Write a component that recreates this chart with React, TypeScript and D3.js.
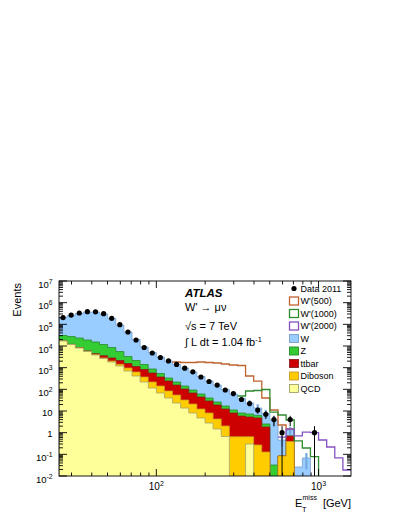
import React, { useRef, useEffect } from 'react'
import * as d3 from 'd3'

const WIDTH = 399
const HEIGHT = 516

// E_T^miss bins: log spaced, 20 per decade starting at ~25 GeV
const binEdges = d3.range(37).map(i => Math.pow(10, 1.4 + 0.05 * i))

const data2011 = [206000, 268900, 332700, 381900, 379000, 308800, 189400, 95940, 44180, 18880, 8510, 4746, 2941, 2050, 1410, 950, 640, 370, 230, 158, 93, 64, 34, 22, 11, 7, 4, 1, 4, 0, 0, 1, 0, 0, 0, 0]

const qcd = [17000, 11700, 8070, 5560, 3840, 2650, 1820, 1190, 700, 412, 218, 115, 67.7, 39.8, 23.4, 13.7, 8.08, 4.75, 2.79, 1.48, 0.665, 0, 0, 0.3, 0, 0, 0, 0, 0, 0, 0, 0, 0, 0, 0, 0]
const diboson = [100, 110, 120, 135, 150, 175, 205, 240, 263, 218, 152, 103, 75, 44, 31, 18.5, 12.9, 7.6, 5.3, 2.8, 1.37, 0.65, 0.65, 0.35, 0.27, 0.128, 0, 0.084, 0.39, 0, 0, 0, 0, 0, 0, 0]
const ttbar = [40, 80, 150, 250, 400, 700, 760, 706, 591, 500, 451, 348, 228, 158, 103, 71, 46.7, 31.8, 20.8, 14.6, 10.3, 7.4, 5.2, 4.6, 4.5, 1.7, 0, 0, 0.31, 0, 0, 0, 0, 0, 0, 0]
const zjets = [13320, 15490, 15010, 12930, 10885, 8185, 5722, 3426, 1716, 1008, 577, 300, 167, 91, 60, 38.7, 25.3, 16.6, 10.9, 7.1, 4.6, 3.0, 2.2, 2.0, 1.44, 0.69, 0.032, 0, 0, 0, 0, 0, 0, 0, 0, 0]
const wjets = [175740, 227640, 292070, 351080, 354690, 287375, 176960, 87386, 40910, 17777, 7576, 4136, 2564, 1694, 1180, 821, 537, 330, 202, 132, 81, 49.7, 29.6, 16.1, 7.5, 5.15, 3.8, 0.37, 0.63, 0.026, 0.068, 0, 0, 0, 0, 0]
// relative MC stat. uncertainty drawn as light blue bars
const mcErr = [0, 0, 0, 0, 0, 0, 0, 0, 0, 0, 0, 0, 0, 0, 0, 0, 0.05, 0.08, 0.1, 0.12, 0.15, 0.25, 0.2, 0.35, 0.5, 0.45, 0.5, 0.5, 0.4, 0, 0.7, 0, 0, 0, 0, 0]

const wprime500 = [0, 0, 0, 0, 0, 0, 0, 0, 0, 0, 0, 0, 0, 0, 425, 765, 1098, 1432, 1486, 1481, 1376, 1265, 1219, 389, 228, 32.1, 7.3, 1.8, 0.15, 0, 0, 0, 0, 0, 0, 0]
const wprime1000 = [0, 0, 0, 0, 0, 0, 0, 0, 0, 0, 0, 0, 0, 0, 0, 0, 0, 0, 0, 0, 0, 0, 11.5, 60.2, 74.5, 90.4, 5.1, 6.07, 2.51, 0.39, 0.128, 0.079, 0, 0, 0, 0]
const wprime2000 = [0, 0, 0, 0, 0, 0, 0, 0, 0, 0, 0, 0, 0, 0, 0, 0, 0, 0, 0, 0, 0, 0, 0, 0, 0, 0, 0, 0.17, 0.15, 0.68, 1.0, 1.0, 0.458, 0.218, 0.068, 0.0189]

const yDecades = [-2, -1, 0, 1, 2, 3, 4, 5, 6, 7]
const xMajor = [100, 1000]
const legendLabels = ['Data 2011', "W'(500)", "W'(1000)", "W'(2000)", 'W', 'Z', 'ttbar', 'Diboson', 'QCD']

const FONT = "'Liberation Sans', Arial, Helvetica, sans-serif"

const App = () => {
  const visEl = useRef<SVGSVGElement>(null)

  useEffect(() => {
    const svg = d3.select(visEl.current)
    svg.selectAll('*').remove()

    const left = 59, right = 351, top = 281, bottom = 476
    const nBins = binEdges.length - 1

    const x = d3.scaleLog().domain([binEdges[0], binEdges[nBins]]).range([left, right])
    const y = d3.scaleLog().domain([1e-2, 1e7]).range([bottom, top])
    const yv = (v: number) => (v > 0 ? y(v) : bottom + 5)

    svg.append('rect').attr('width', WIDTH).attr('height', HEIGHT).attr('fill', '#fff')

    svg.append('clipPath').attr('id', 'plotClip')
      .append('rect').attr('x', left).attr('y', top).attr('width', right - left).attr('height', bottom - top)

    const g = svg.append('g').attr('clip-path', 'url(#plotClip)')

    // stacked backgrounds, bottom to top
    const layers = [
      { vals: qcd, fill: '#ffff99', stroke: '#a3a36e' },
      { vals: diboson, fill: '#ffcc00', stroke: '#c89a2a' },
      { vals: ttbar, fill: '#cc0000', stroke: '#8a2020' },
      { vals: zjets, fill: '#33cc33', stroke: '#2a8a2a' },
      { vals: wjets, fill: '#99ccff', stroke: '#7a9fc8' },
    ]
    const cum: number[][] = []
    layers.forEach((l, k) => {
      cum.push(l.vals.map((v, i) => v + (k > 0 ? cum[k - 1][i] : 0)))
    })
    const total = cum[cum.length - 1]

    const stepArea = (vals: number[]) => {
      let p = `M${x(binEdges[0])},${bottom + 5}`
      vals.forEach((v, i) => {
        p += `L${x(binEdges[i])},${yv(v)}L${x(binEdges[i + 1])},${yv(v)}`
      })
      return p + `L${x(binEdges[nBins])},${bottom + 5}Z`
    }

    for (let k = layers.length - 1; k >= 0; k--) {
      g.append('path')
        .attr('d', stepArea(cum[k]))
        .attr('fill', layers[k].fill)
        .attr('stroke', layers[k].stroke)
        .attr('stroke-width', 0.8)
    }

    // MC uncertainty bars
    const centre = (i: number) => x(Math.sqrt(binEdges[i] * binEdges[i + 1]))
    mcErr.forEach((e, i) => {
      if (e <= 0 || total[i] <= 0) return
      g.append('line')
        .attr('x1', centre(i)).attr('x2', centre(i))
        .attr('y1', yv(total[i] * (1 - e))).attr('y2', yv(total[i] * (1 + e)))
        .attr('stroke', '#74aadf').attr('stroke-width', 2.2)
    })

    // signal lines on top of the SM stack
    const signals = [
      { vals: wprime500, color: '#c0632f', from: 14, to: 28 },
      { vals: wprime1000, color: '#2e8b2e', from: 22, to: 32 },
      { vals: wprime2000, color: '#8552c2', from: 27, to: 35 },
    ]
    signals.forEach(s => {
      let p = ''
      for (let i = s.from; i <= s.to; i++) {
        const v = yv(total[i] + s.vals[i])
        p += i === s.from ? `M${x(binEdges[i])},${v}` : `V${v}`
        p += `H${x(binEdges[i + 1])}`
      }
      g.append('path').attr('d', p).attr('fill', 'none')
        .attr('stroke', s.color).attr('stroke-width', 1.3)
    })

    // data points with poisson errors
    data2011.forEach((n, i) => {
      if (n <= 0) return
      const cx = centre(i)
      const err = Math.sqrt(n)
      g.append('line')
        .attr('x1', cx).attr('x2', cx)
        .attr('y1', yv(n - err)).attr('y2', yv(n + err))
        .attr('stroke', '#000').attr('stroke-width', 1)
      g.append('circle').attr('cx', cx).attr('cy', y(n)).attr('r', 2.6).attr('fill', '#000')
    })

    // frame and ticks
    const axes = svg.append('g').attr('stroke', '#000').attr('stroke-width', 0.9)
    axes.append('rect').attr('x', left).attr('y', top).attr('width', right - left).attr('height', bottom - top)
      .attr('fill', 'none')

    yDecades.forEach(n => {
      const yy = y(Math.pow(10, n))
      axes.append('line').attr('x1', left).attr('x2', left + 8).attr('y1', yy).attr('y2', yy)
      axes.append('line').attr('x1', right).attr('x2', right - 8).attr('y1', yy).attr('y2', yy)
      if (n < 7) {
        for (let k = 2; k <= 9; k++) {
          const ym = y(k * Math.pow(10, n))
          axes.append('line').attr('x1', left).attr('x2', left + 4).attr('y1', ym).attr('y2', ym)
          axes.append('line').attr('x1', right).attr('x2', right - 4).attr('y1', ym).attr('y2', ym)
        }
      }
    })

    const xMinor: number[] = []
    ;[10, 100, 1000].forEach(d => {
      for (let k = 2; k <= 9; k++) {
        const v = k * d
        if (v > binEdges[0] && v < binEdges[nBins]) xMinor.push(v)
      }
    })
    xMajor.forEach(v => {
      axes.append('line').attr('x1', x(v)).attr('x2', x(v)).attr('y1', bottom).attr('y2', bottom - 7)
      axes.append('line').attr('x1', x(v)).attr('x2', x(v)).attr('y1', top).attr('y2', top + 7)
    })
    xMinor.forEach(v => {
      axes.append('line').attr('x1', x(v)).attr('x2', x(v)).attr('y1', bottom).attr('y2', bottom - 3.5)
      axes.append('line').attr('x1', x(v)).attr('x2', x(v)).attr('y1', top).attr('y2', top + 3.5)
    })

    // y tick labels
    const txt = svg.append('g').attr('font-family', FONT).attr('fill', '#000')
    yDecades.forEach(n => {
      const yy = y(Math.pow(10, n))
      const t = txt.append('text').attr('x', 52.5).attr('text-anchor', 'end').attr('font-size', 9.5)
      if (n === 0 || n === 1) {
        t.attr('y', yy + 4.5).text(n === 0 ? '1' : '10')
      } else {
        t.attr('y', yy + 6.5)
        t.append('tspan').text('10')
        t.append('tspan').attr('dy', -4).attr('font-size', 6.8).text(String(n))
      }
    })

    // x tick labels
    xMajor.forEach(v => {
      const t = txt.append('text').attr('x', x(v)).attr('y', 490).attr('text-anchor', 'middle').attr('font-size', 10)
      t.append('tspan').text('10')
      t.append('tspan').attr('dy', -4.5).attr('font-size', 7).text(String(Math.round(Math.log10(v))))
    })

    // axis titles
    txt.append('text')
      .attr('transform', `translate(20.5,${top + 2}) rotate(-90)`)
      .attr('text-anchor', 'end').attr('font-size', 11).text('Events')

    txt.append('text').attr('x', 295).attr('y', 506.5).attr('font-size', 11).text('E')
    txt.append('text').attr('x', 302).attr('y', 511.5).attr('font-size', 7.5).text('T')
    txt.append('text').attr('x', 302.5).attr('y', 500).attr('font-size', 7).text('miss')
    txt.append('text').attr('x', 351).attr('y', 506.5).attr('text-anchor', 'end').attr('font-size', 11).text('[GeV]')

    // ATLAS label block
    txt.append('text').attr('x', 185).attr('y', 297).attr('font-size', 11.5)
      .attr('font-weight', 'bold').attr('font-style', 'italic').text('ATLAS')
    txt.append('text').attr('x', 185).attr('y', 311).attr('font-size', 11).text("W' \u2192 \u03bc\u03bd")
    txt.append('text').attr('x', 185).attr('y', 330).attr('font-size', 11).text('\u221as = 7 TeV')
    const lumi = txt.append('text').attr('x', 185).attr('y', 346).attr('font-size', 11)
    lumi.append('tspan').text('\u222b L dt = 1.04 fb')
    lumi.append('tspan').attr('dy', -4.5).attr('font-size', 7.5).text('-1')

    // legend
    const rowY = (k: number) => 288.5 + k * 12.5
    const legendStyles = [
      null,
      { fill: '#fff', stroke: '#c0632f' },
      { fill: '#fff', stroke: '#2e8b2e' },
      { fill: '#fff', stroke: '#8552c2' },
      { fill: '#99ccff', stroke: '#7a9fc8' },
      { fill: '#33cc33', stroke: '#2a8a2a' },
      { fill: '#cc0000', stroke: '#8a2020' },
      { fill: '#ffcc00', stroke: '#c89a2a' },
      { fill: '#ffff99', stroke: '#a3a36e' },
    ]
    legendLabels.forEach((label, k) => {
      const cy = rowY(k)
      const st = legendStyles[k]
      if (st === null) {
        svg.append('circle').attr('cx', 294).attr('cy', cy).attr('r', 2.6).attr('fill', '#000')
      } else {
        svg.append('rect').attr('x', 289.5).attr('y', cy - 4).attr('width', 9).attr('height', 8)
          .attr('fill', st.fill).attr('stroke', st.stroke).attr('stroke-width', k <= 3 ? 1.3 : 0.9)
      }
      txt.append('text').attr('x', 300.5).attr('y', cy + 3.3).attr('font-size', 9).text(label)
    })
  }, [])

  return (
    <svg
      ref={visEl}
      width={WIDTH}
      height={HEIGHT}
      style={{ position: 'absolute', left: 0, top: 0, display: 'block' }}
    />
  )
}

export default App
